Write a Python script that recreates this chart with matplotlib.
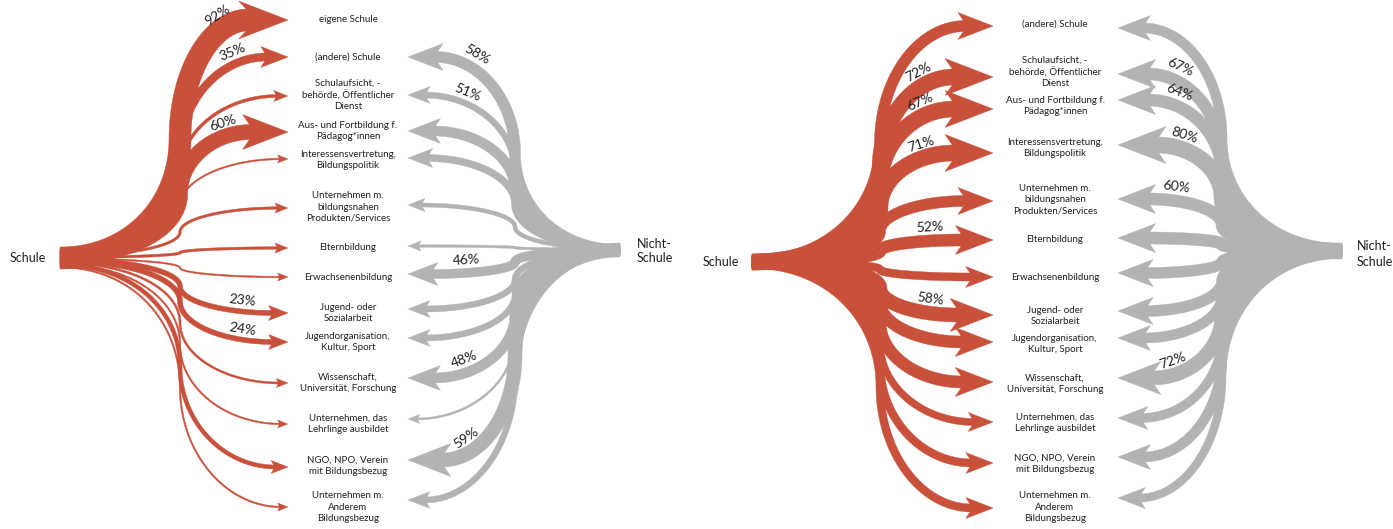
import numpy as np
import matplotlib
matplotlib.use("Agg")
import matplotlib.pyplot as plt

# ---------------- data ----------------
targets_left = [
    "eigene Schule",
    "(andere) Schule",
    "Schulaufsicht, -\nbehörde, Öffentlicher\nDienst",
    "Aus- und Fortbildung f.\nPädagog*innen",
    "Interessensvertretung,\nBildungspolitik",
    "Unternehmen m.\nbildungsnahen\nProdukten/Services",
    "Elternbildung",
    "Erwachsenenbildung",
    "Jugend- oder\nSozialarbeit",
    "Jugendorganisation,\nKultur, Sport",
    "Wissenschaft,\nUniversität, Forschung",
    "Unternehmen, das\nLehrlinge ausbildet",
    "NGO, NPO, Verein\nmit Bildungsbezug",
    "Unternehmen m.\nAnderem\nBildungsbezug",
]
targets_right = targets_left[1:]

# flow strengths (band widths)
red_w_left = [22, 8, 3, 15, 1.5, 2.5, 2.5, 1.5, 5, 5, 2, 1.5, 4, 1.5]
red_pct_left = [92, 35, None, 60, None, None, None, None, 23, 24, None, None, None, None]
gray_w_left = [11, 6, 10, 7, 4, 2.5, 9, 6, 6, 10, 2, 14, 6]          # no "eigene Schule"
gray_pct_left = [58, 51, None, None, None, None, 46, None, None, 48, None, 59, None]

red_w_right = [11, 16, 16, 16, 11, 12, 8, 14, 12, 12, 7, 8, 8]
red_pct_right = [None, 72, 67, 71, None, 52, None, 58, None, None, None, None, None]
gray_w_right = [10, 12, 12, 16, 12, 12, 11, 11, 10, 14, 9, 10, 8]
gray_pct_right = [None, 67, 64, 80, 60, None, None, None, None, 72, None, None, None]

# ---------------- style / layout ----------------
RED = "#C9503A"
GRAY = "#B2B4B4"
TXT = "#231F20"
plt.rcParams["font.family"] = ["Lato", "DejaVu Sans"]

W, H = 1393, 529
fig = plt.figure(figsize=(W / 100, H / 100), dpi=100)
ax = fig.add_axes([0, 0, 1, 1])
ax.set_xlim(0, W)
ax.set_ylim(H, 0)
ax.axis("off")

panels = [
    dict(targets=targets_left, red_w=red_w_left, red_pct=red_pct_left,
         gray_w=gray_w_left, gray_pct=gray_pct_left,
         src_red=(60, 258, 20), src_gray=(620, 250, 11),
         red_tip=288, gray_tip=408, label_x=348,
         red_k=180, gray_k=515,
         red_y=[20, 57, 96, 132, 159, 208, 248, 277, 313, 342, 383, 424, 467, 507],
         gray_y=[57, 95, 131, 158, 205, 246, 274, 309, 338, 378, 419, 460, 500],
         label_y=[20, 57, 95, 131, 160, 207, 248, 277, 313, 342, 383, 424, 466, 507],
         schule=(10, 258), nicht=(637, 251), t_red=0.78, t_gray=0.72),
    dict(targets=targets_right, red_w=red_w_right, red_pct=red_pct_right,
         gray_w=gray_w_right, gray_pct=gray_pct_right,
         src_red=(752, 262, 13), src_gray=(1342, 251, 15),
         red_tip=993, gray_tip=1118, label_x=1055,
         red_k=880, gray_k=1222,
         red_y=[26, 77, 109, 153, 201, 240, 277, 315, 342, 382, 422, 463, 508],
         gray_y=[28, 74, 100, 145, 199, 238, 273, 311, 338, 378, 418, 457, 498],
         label_y=[24, 72, 106, 148, 200, 240, 277, 316, 344, 384, 423, 464, 507],
         schule=(703, 262), nicht=(1357, 254), t_red=0.75, t_gray=0.77),
]


def bez(p, t):
    t = np.asarray(t, dtype=float)[..., None]
    p0, p1, p2, p3 = p
    P = (1 - t) ** 3 * p0 + 3 * (1 - t) ** 2 * t * p1 + 3 * (1 - t) * t ** 2 * p2 + t ** 3 * p3
    D = 3 * (1 - t) ** 2 * (p1 - p0) + 6 * (1 - t) * t * (p2 - p1) + 3 * t ** 2 * (p3 - p2)
    return P, D


def flow(src, xk, tip, yt, w, i, n, color, direction, pct, t_lab):
    xs, yc, hs = src
    ww = min(w, hs)
    frac = i / max(n - 1, 1)
    ys = yc - hs / 2 + ww / 2 + frac * (hs - ww)
    head = min(2.0 * w + 5, 38)
    hlen = head * 1.1
    xb = tip - direction * hlen
    xe = xb + direction * 2
    ym = ys + 0.5 * (yt - ys)
    s1 = [np.array([xs, ys]), np.array([xs + 0.6 * (xk - xs), ys]),
          np.array([xk, ys + 0.45 * (ym - ys)]), np.array([xk, ym])]
    s2 = [np.array([xk, ym]), np.array([xk, ym + 0.55 * (yt - ym)]),
          np.array([xk + 0.45 * (xe - xk), yt]), np.array([xe, yt])]
    t = np.linspace(0, 1, 120)
    pts, ders = [], []
    for seg in (s1, s2):
        P, D = bez(seg, t)
        pts.append(P)
        ders.append(D)
    P = np.vstack(pts)
    D = np.vstack(ders)
    L = np.linalg.norm(D, axis=1)
    L[L < 1e-9] = 1e-9
    nrm = np.column_stack([-D[:, 1], D[:, 0]]) / L[:, None]
    a = P + nrm * w / 2
    b = P - nrm * w / 2
    poly = np.vstack([a, b[::-1]])
    ax.fill(poly[:, 0], poly[:, 1], color=color, lw=0.3, ec=color, zorder=2)
    notch = 0.18 * hlen
    hx = [tip, xb - direction * notch, xb, xb, xb - direction * notch]
    hy = [yt, yt - head / 2, yt - w / 2, yt + w / 2, yt + head / 2]
    ax.fill(hx, hy, color=color, lw=0.3, ec=color, zorder=2)
    if pct is not None:
        Pl, Dl = bez(s2, t_lab)
        dx, dy = Dl
        nv = np.array([-dy, dx]) / np.hypot(dx, dy)
        if nv[1] > 0:
            nv = -nv
        pos = Pl + nv * (min(w / 2, 6) + 8)
        ang = np.degrees(np.arctan2(-dy, dx))
        if ang > 90:
            ang -= 180
        elif ang <= -90:
            ang += 180
        ax.text(pos[0], pos[1], f"{pct}%", fontsize=10, color=TXT, ha="center",
                va="center", rotation=ang, rotation_mode="anchor", zorder=3)


for pn in panels:
    nr = len(pn["red_w"])
    for i in range(nr):
        flow(pn["src_red"], pn["red_k"], pn["red_tip"], pn["red_y"][i], pn["red_w"][i],
             i, nr, RED, 1, pn["red_pct"][i], pn["t_red"])
    ng = len(pn["gray_w"])
    for i in range(ng):
        flow(pn["src_gray"], pn["gray_k"], pn["gray_tip"], pn["gray_y"][i], pn["gray_w"][i],
             i, ng, GRAY, -1, pn["gray_pct"][i], pn["t_gray"])
    for name, ly in zip(pn["targets"], pn["label_y"]):
        ax.text(pn["label_x"], ly, name, fontsize=7, color=TXT, ha="center", va="center",
                linespacing=1.3, zorder=3)
    ax.text(pn["schule"][0], pn["schule"][1], "Schule", fontsize=9, color=TXT,
            ha="left", va="center")
    ax.text(pn["nicht"][0], pn["nicht"][1], "Nicht-\nSchule", fontsize=9, color=TXT,
            ha="left", va="center", linespacing=1.3)

fig.savefig("out.png", dpi=100)
